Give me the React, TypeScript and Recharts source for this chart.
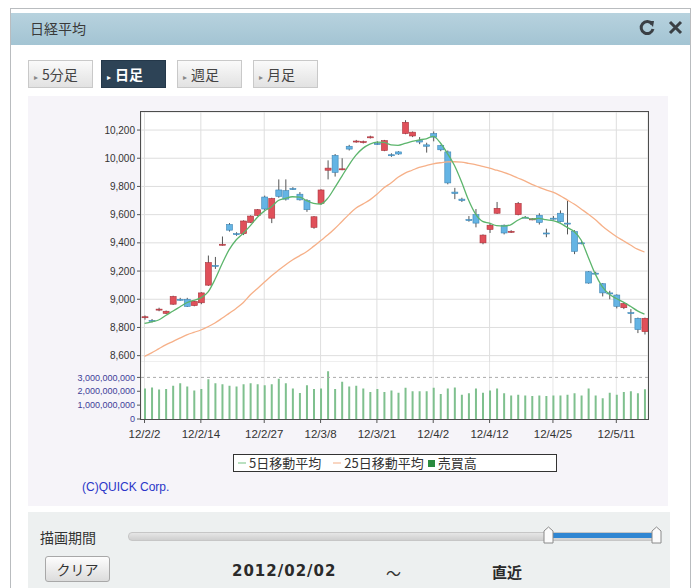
import { ComposedChart, Bar, Line, XAxis, YAxis, CartesianGrid, ReferenceLine } from 'recharts';

// trading days shown on the chart
const dates = [
  '12/2/2', '12/2/3', '12/2/6', '12/2/7', '12/2/8', '12/2/9', '12/2/10', '12/2/13', '12/2/14', '12/2/15',
  '12/2/16', '12/2/17', '12/2/20', '12/2/21', '12/2/22', '12/2/23', '12/2/24', '12/2/27', '12/2/28', '12/2/29',
  '12/3/1', '12/3/2', '12/3/5', '12/3/6', '12/3/7', '12/3/8', '12/3/9', '12/3/12', '12/3/13', '12/3/14',
  '12/3/15', '12/3/16', '12/3/19', '12/3/21', '12/3/22', '12/3/23', '12/3/26', '12/3/27', '12/3/28', '12/3/29',
  '12/3/30', '12/4/2', '12/4/3', '12/4/4', '12/4/5', '12/4/6', '12/4/9', '12/4/10', '12/4/11', '12/4/12',
  '12/4/13', '12/4/16', '12/4/17', '12/4/18', '12/4/19', '12/4/20', '12/4/23', '12/4/24', '12/4/25', '12/4/26',
  '12/4/27', '12/5/1', '12/5/2', '12/5/7', '12/5/8', '12/5/9', '12/5/10', '12/5/11', '12/5/14', '12/5/15',
  '12/5/16', '12/5/17',
];

const opens = [
  8870, 8850, 8925, 8900, 8965, 9000, 9000, 8955, 8975, 9100,
  9240, 9385, 9530, 9465, 9465, 9545, 9595, 9725, 9575, 9775,
  9770, 9785, 9745, 9700, 9510, 9680, 9915, 10020, 9920, 10085,
  10120, 10112, 10148, 10105, 10055, 10025, 10045, 10175, 10158, 10125,
  10095, 10175, 10090, 10045, 9760, 9710, 9565, 9600, 9400, 9495,
  9610, 9525, 9478, 9600, 9582, 9568, 9595, 9470, 9575, 9610,
  9540, 9480, 9400, 9195, 9185, 9110, 9045, 9030, 8940, 8905,
  8865, 8770,
];
const highs = [
  8885, 8860, 8940, 8920, 9025, 9010, 9010, 8990, 9050, 9310,
  9300, 9445, 9540, 9475, 9560, 9595, 9640, 9735, 9720, 9850,
  9850, 9795, 9760, 9710, 9590, 9780, 9985, 10030, 10000, 10095,
  10130, 10125, 10160, 10120, 10130, 10035, 10050, 10270, 10190, 10150,
  10110, 10190, 10095, 10055, 9790, 9720, 9590, 9640, 9460, 9540,
  9690, 9530, 9490, 9690, 9590, 9575, 9610, 9500, 9590, 9630,
  9700, 9490, 9410, 9200, 9195, 9115, 9060, 9035, 8975, 8930,
  8870, 8870,
];
const lows = [
  8855, 8835, 8915, 8895, 8960, 8990, 8945, 8950, 8965, 9095,
  9215, 9380, 9480, 9450, 9455, 9540, 9590, 9630, 9540, 9720,
  9700, 9775, 9700, 9620, 9500, 9670, 9850, 9870, 9915, 10055,
  10110, 10105, 10140, 10095, 10050, 10010, 10025, 10170, 10150, 10100,
  10040, 10120, 10050, 9815, 9710, 9690, 9550, 9510, 9390, 9470,
  9605, 9460, 9470, 9595, 9575, 9560, 9530, 9440, 9565, 9545,
  9460, 9320, 9390, 9110, 9175, 9020, 9000, 8935, 8930, 8830,
  8760, 8750,
];
const closes = [
  8876, 8845, 8930, 8915, 9020, 8995, 8950, 8985, 9045, 9260,
  9235, 9390, 9490, 9460, 9555, 9590, 9635, 9640, 9715, 9730,
  9710, 9780, 9705, 9635, 9585, 9775, 9930, 9900, 9925, 10065,
  10122, 10118, 10152, 10100, 10125, 10018, 10030, 10255, 10185, 10115,
  10085, 10150, 10060, 9825, 9750, 9700, 9560, 9540, 9455, 9525,
  9645, 9470, 9482, 9680, 9580, 9570, 9545, 9465, 9572, 9550,
  9535, 9340, 9395, 9115, 9180, 9045, 9040, 8950, 8970, 8900,
  8785, 8865,
];

// 5日移動平均
const ma5 = [
  8829, 8840, 8853, 8885, 8915, 8945, 8975, 8993, 9010, 9050,
  9140, 9250, 9350, 9420, 9467, 9520, 9580, 9625, 9655, 9700,
  9715, 9727, 9725, 9700, 9680, 9675, 9715, 9790, 9870, 9950,
  10020, 10070, 10100, 10115, 10112, 10095, 10092, 10105, 10120, 10130,
  10138, 10155, 10110, 10035, 9950, 9835, 9705, 9605, 9552, 9540,
  9522, 9519, 9528, 9560, 9581, 9568, 9574, 9564, 9558, 9540,
  9510, 9480, 9420, 9300, 9180, 9090, 9035, 9005, 8980, 8950,
  8918, 8895,
];
// 25日移動平均
const ma25 = [
  8595, 8620, 8648, 8676, 8700, 8724, 8747, 8765, 8782, 8805,
  8832, 8865, 8900, 8935, 8975, 9030, 9075, 9120, 9165, 9205,
  9243, 9278, 9308, 9337, 9375, 9415, 9455, 9500, 9550, 9600,
  9645, 9675, 9705, 9745, 9790, 9825, 9865, 9895, 9915, 9935,
  9948, 9960, 9968, 9974, 9975, 9972, 9964, 9955, 9942, 9930,
  9915, 9900, 9882, 9860, 9840, 9815, 9795, 9775, 9760, 9735,
  9705, 9675, 9640, 9605, 9565, 9520, 9480, 9445, 9415, 9385,
  9355, 9335,
];
// 売買高
const volumes = [
  2.2e9, 2.28e9, 2.12e9, 2.17e9, 2.4e9, 2.58e9, 2.35e9, 2.05e9, 2.17e9, 2.86e9,
  2.58e9, 2.5e9, 2.4e9, 2.35e9, 2.5e9, 2.58e9, 2.5e9, 2.44e9, 2.5e9, 2.9e9,
  2.58e9, 2.2e9, 1.88e9, 2.44e9, 2.17e9, 2.2e9, 3.45e9, 2.17e9, 2.68e9, 2.35e9,
  2.4e9, 2.2e9, 1.95e9, 2.17e9, 1.95e9, 2.05e9, 1.9e9, 2.25e9, 2.0e9, 2.0e9,
  2.0e9, 2.25e9, 1.8e9, 2.2e9, 2.28e9, 1.75e9, 1.85e9, 2.2e9, 1.9e9, 2.05e9,
  2.2e9, 1.85e9, 1.7e9, 1.75e9, 1.7e9, 1.65e9, 1.7e9, 1.65e9, 1.7e9, 1.7e9,
  1.75e9, 1.85e9, 1.7e9, 2.2e9, 1.7e9, 1.5e9, 1.9e9, 1.75e9, 1.95e9, 2.0e9,
  1.85e9, 2.15e9,
];

const dateTicks = ['12/2/2', '12/2/14', '12/2/27', '12/3/8', '12/3/21', '12/4/2', '12/4/12', '12/4/25', '12/5/11'];
const priceTicks = [8600, 8800, 9000, 9200, 9400, 9600, 9800, 10000, 10200];
const volumeTicks = [0, 1e9, 2e9, 3e9];
const periodButtons = ['5分足', '日足', '週足', '月足'];

const data = dates.map((date, i) => ({
  date,
  open: opens[i],
  high: highs[i],
  low: lows[i],
  close: closes[i],
  ma5: ma5[i],
  ma25: ma25[i],
  volume: volumes[i],
}));

const JP = "'Noto Sans CJK JP', 'DejaVu Sans', sans-serif";
const AXIS_FONT = "'Liberation Sans', Arial, sans-serif";

const PLOT_LEFT = 141;
const PLOT_TOP = 112;
const PLOT_W = 507;
const PRICE_H = 250;
const VOL_H = 57;
const AXIS_W = 80;

const fmt = (v: number) => v.toLocaleString('en-US');

// candle drawn inside the [low, high] range bar
const Candle = (props: any) => {
  const { x, y, width, height, payload } = props;
  if (!payload) return null;
  const { open, high, low, close } = payload;
  const top = Math.min(y, y + height);
  const h = Math.abs(height);
  const span = high - low || 1;
  const toY = (v: number) => top + ((high - v) / span) * h;
  const cx = x + width / 2;
  const up = close >= open;
  const bTop = toY(Math.max(open, close));
  const bBot = toY(Math.min(open, close));
  return (
    <g>
      <line x1={cx} x2={cx} y1={top} y2={top + h} stroke="#555" strokeWidth={1} />
      <rect
        x={x}
        y={bTop}
        width={width}
        height={Math.max(bBot - bTop, 1)}
        fill={up ? '#e0505a' : '#64b4e4'}
        stroke={up ? '#a8343c' : '#3d84b3'}
        strokeWidth={0.6}
      />
    </g>
  );
};

const abs = (left: number, top: number, extra: any = {}) => ({ position: 'absolute' as const, left, top, ...extra });

export default function App() {
  return (
    <div style={abs(0, 0, { width: 697, height: 588, background: '#fff', overflow: 'hidden', fontFamily: JP, color: '#333' })}>
      {/* widget frame */}
      <div style={abs(10, 8, { width: 679, height: 600, border: '1px solid #b9bcbf', background: '#fff' })} />
      {/* header */}
      <div style={abs(11, 13, { width: 679, height: 32, background: 'linear-gradient(#b7d2de, #a3c4d3)' })} />
      <div style={abs(30, 18, { fontSize: 14, lineHeight: '20px', color: '#3a3a3a' })}>日経平均</div>
      <svg style={abs(638, 19)} width={18} height={18} viewBox="0 0 18 18">
        <path d="M14 5 A6 6 0 1 0 15 10" fill="none" stroke="#3a3f44" strokeWidth={3} />
        <path d="M10 2 L16 2 L15 8 Z" fill="#3a3f44" />
      </svg>
      <svg style={abs(668, 20)} width={15} height={15} viewBox="0 0 15 15">
        <path d="M2 2 L13 13 M13 2 L2 13" stroke="#3a3f44" strokeWidth={3} />
      </svg>

      {/* period buttons */}
      {periodButtons.map((label, i) => {
        const selected = i === 1;
        return (
          <div
            key={label}
            style={abs([28, 101, 177, 253][i], 60, {
              width: 65,
              height: 28,
              boxSizing: 'border-box',
              border: selected ? '1px solid #24384a' : '1px solid #c9c9c9',
              background: selected ? '#2d4356' : 'linear-gradient(#fafafa, #e2e2e2)',
              color: selected ? '#fff' : '#444',
              fontSize: 14,
              lineHeight: '26px',
              paddingLeft: 5,
              fontWeight: selected ? 700 : 400,
            })}
          >
            <span style={{ fontSize: 8, marginRight: 4, color: selected ? '#fff' : '#888' }}>▸</span>
            {label}
          </div>
        );
      })}

      {/* chart panel */}
      <div style={abs(28, 96, { width: 640, height: 410, background: '#f6f4f9' })} />
      <div style={abs(PLOT_LEFT, PLOT_TOP, { width: PLOT_W, height: PRICE_H + VOL_H, background: '#fff' })} />

      {/* price panel */}
      <div style={abs(PLOT_LEFT - AXIS_W, PLOT_TOP)}>
        <ComposedChart width={AXIS_W + PLOT_W} height={PRICE_H} data={data} margin={{ top: 0, right: 0, bottom: 0, left: 0 }}>
          <CartesianGrid stroke="#dedede" />
          <XAxis dataKey="date" ticks={dateTicks} interval={0} hide />
          <YAxis
            type="number"
            width={AXIS_W}
            domain={[8555, 10328]}
            allowDataOverflow
            ticks={priceTicks}
            interval={0}
            tickFormatter={fmt}
            axisLine={false}
            tickSize={4}
            tickLine={{ stroke: '#555' }}
            tick={{ fontSize: 10, fill: '#333', fontFamily: AXIS_FONT }}
          />
          <Line type="monotone" dataKey="ma25" stroke="#f6b088" strokeWidth={1.3} dot={false} isAnimationActive={false} />
          <Line type="monotone" dataKey="ma5" stroke="#5cb56c" strokeWidth={1.3} dot={false} isAnimationActive={false} />
          <Bar dataKey={(d: any) => [d.low, d.high]} barSize={6} shape={Candle} isAnimationActive={false} />
        </ComposedChart>
      </div>

      {/* volume panel */}
      <div style={abs(PLOT_LEFT - AXIS_W, PLOT_TOP + PRICE_H)}>
        <ComposedChart width={AXIS_W + PLOT_W} height={VOL_H + 30} data={data} margin={{ top: 0, right: 0, bottom: 0, left: 0 }}>
          <CartesianGrid stroke="#e6e6e6" horizontal={false} />
          <XAxis
            dataKey="date"
            ticks={dateTicks}
            interval={0}
            height={30}
            axisLine={false}
            tickSize={4}
            tickMargin={7}
            tickLine={{ stroke: '#555' }}
            tick={{ fontSize: 11.5, fill: '#333', fontFamily: AXIS_FONT }}
          />
          <YAxis
            type="number"
            width={AXIS_W}
            domain={[0, 4.11e9]}
            allowDataOverflow
            ticks={volumeTicks}
            interval={0}
            tickFormatter={fmt}
            axisLine={false}
            tickSize={4}
            tickLine={{ stroke: '#555' }}
            tick={{ fontSize: 9, fill: '#3e3e98', fontFamily: AXIS_FONT }}
          />
          <ReferenceLine y={3e9} stroke="#aaa" strokeDasharray="3 3" />
          <Bar dataKey="volume" barSize={2} fill="#7fc08e" isAnimationActive={false} />
        </ComposedChart>
      </div>

      {/* plot frame */}
      <div style={abs(PLOT_LEFT - 1, PLOT_TOP - 1, { width: PLOT_W, height: PRICE_H + VOL_H, border: '1px solid #4d4d4d', pointerEvents: 'none' })} />

      {/* legend */}
      <div
        style={abs(233, 454, {
          width: 324,
          height: 18,
          boxSizing: 'border-box',
          border: '1px solid #333',
          background: '#fff',
          fontSize: 13,
          lineHeight: '16px',
          display: 'flex',
          alignItems: 'center',
          paddingLeft: 4,
          whiteSpace: 'nowrap',
          color: '#333',
        })}
      >
        <span style={{ display: 'inline-block', width: 8, borderTop: '2px solid #b9e0c0', marginRight: 3 }} />
        <span style={{ marginRight: 12 }}>5日移動平均</span>
        <span style={{ display: 'inline-block', width: 8, borderTop: '2px solid #f9d6c2', marginRight: 3 }} />
        <span style={{ marginRight: 4 }}>25日移動平均</span>
        <span style={{ display: 'inline-block', width: 7, height: 7, background: '#2a8a3e', marginRight: 3 }} />
        <span>売買高</span>
      </div>
      <div style={abs(82, 480, { fontSize: 12, color: '#2a36c8', fontFamily: AXIS_FONT })}>(C)QUICK Corp.</div>

      {/* period range panel */}
      <div style={abs(28, 512, { width: 642, height: 80, background: '#edf0f0' })} />
      <div style={abs(40, 527, { fontSize: 14, lineHeight: '20px', color: '#333' })}>描画期間</div>
      <div style={abs(128, 532, { width: 530, height: 7, borderRadius: 4, background: 'linear-gradient(#e6e6e6, #cfcfcf)', border: '1px solid #c6c6c6' })} />
      <div style={abs(548, 533, { width: 108, height: 5, background: '#2f86d2' })} />
      {[543, 651].map((left) => (
        <svg key={left} style={abs(left, 526)} width={11} height={19} viewBox="0 0 11 19">
          <path d="M1 5 L5.5 1 L10 5 L10 17 L1 17 Z" fill="#fbfbfb" stroke="#8a8a8a" strokeWidth={1} />
        </svg>
      ))}
      <div
        style={abs(45, 556, {
          width: 65,
          height: 26,
          boxSizing: 'border-box',
          border: '1px solid #a8a8a8',
          borderRadius: 3,
          background: 'linear-gradient(#fdfdfd, #dcdcdc)',
          fontSize: 14,
          lineHeight: '24px',
          textAlign: 'center',
          color: '#333',
        })}
      >
        クリア
      </div>
      <div style={abs(232, 562, { fontSize: 15, fontWeight: 700, fontFamily: "'DejaVu Sans', sans-serif", letterSpacing: 1, color: '#2a2a2a' })}>2012/02/02</div>
      <div style={abs(386, 562, { fontSize: 15, color: '#333' })}>～</div>
      <div style={abs(492, 561, { fontSize: 15, fontWeight: 700, color: '#2a2a2a' })}>直近</div>
    </div>
  );
}
